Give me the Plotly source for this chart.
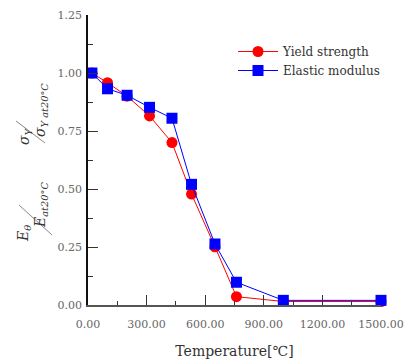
import plotly.graph_objects as go

# Data
temps = [20, 100, 200, 315, 430, 530, 650, 760, 1000, 1500]
yield_strength = [1.00, 0.958, 0.90, 0.815, 0.70, 0.478, 0.251, 0.036, 0.015, 0.015]
elastic_modulus = [1.00, 0.932, 0.904, 0.852, 0.805, 0.52, 0.263, 0.098, 0.02, 0.02]
x_ticks = [0, 300, 600, 900, 1200, 1500]
y_ticks = [0.0, 0.25, 0.5, 0.75, 1.0, 1.25]

W, H = 406, 359
L, R, T, B = 88, 25, 15, 54
pw, ph = W - L - R, H - T - B

def px(x):
    return (x - L) / pw

def py(y):
    return (H - B - y) / ph

FONT = "DejaVu Serif, Liberation Serif, serif"

fig = go.Figure()
fig.add_trace(go.Scatter(
    x=temps, y=yield_strength, name="Yield strength", mode="lines+markers",
    line=dict(color="#ff0000", width=1),
    marker=dict(symbol="circle", size=11, color="#ff0000"),
    cliponaxis=False,
))
fig.add_trace(go.Scatter(
    x=temps, y=elastic_modulus, name="Elastic modulus", mode="lines+markers",
    line=dict(color="#0000ff", width=1),
    marker=dict(symbol="square", size=11, color="#0000ff"),
    cliponaxis=False,
))

axis_common = dict(
    showgrid=False, zeroline=False, showline=True, linewidth=1.5,
    ticks="inside", tickwidth=1, tickcolor="#333333",
    tickfont=dict(family=FONT, size=11, color="#666666"),
    tickformat=".2f", automargin=False,
)

fig.update_xaxes(
    range=[0, 1500], tickvals=x_ticks, ticklen=10, linecolor="#555555",
    minor=dict(ticks="inside", ticklen=4, dtick=150, tickcolor="#333333"),
    ticklabelstandoff=8,
    title=dict(text="Temperature[℃]", font=dict(family=FONT, size=14, color="#333333"), standoff=16),
    **axis_common,
)
fig.update_yaxes(
    range=[0, 1.25], tickvals=y_ticks, ticklen=10, linecolor="#111111",
    minor=dict(ticks="inside", ticklen=5, dtick=0.125, tickcolor="#333333"),
    ticklabelstandoff=2,
    **axis_common,
)

ann_font = dict(family=FONT, size=14, color="#333333")
annotations = [
    # upper fraction: sigma_Y / sigma_Y at 20C
    dict(text="<i>σ<sub>Y</sub></i>", x=px(25), y=py(136), textangle=-90),
    dict(text="<i>σ<sub>Y at20°C</sub></i>", x=px(41), y=py(110), textangle=-90),
    # lower fraction: E_theta / E at 20C
    dict(text="<i>E<sub>θ</sub></i>", x=px(24), y=py(234), textangle=-90),
    dict(text="<i>E<sub>at20°C</sub></i>", x=px(41), y=py(205), textangle=-90),
]
for a in annotations:
    a.update(xref="paper", yref="paper", showarrow=False, font=ann_font,
             xanchor="center", yanchor="middle")

shapes = [
    dict(type="line", xref="paper", yref="paper", x0=px(16), y0=py(121), x1=px(45), y1=py(143),
         line=dict(color="#888888", width=1)),
    dict(type="line", xref="paper", yref="paper", x0=px(19), y0=py(205), x1=px(52), y1=py(235),
         line=dict(color="#888888", width=1)),
]

fig.update_layout(
    width=W, height=H,
    margin=dict(l=L, r=R, t=T, b=B),
    paper_bgcolor="white", plot_bgcolor="white",
    showlegend=True,
    legend=dict(x=px(233), y=py(37), xanchor="left", yanchor="top",
                font=dict(family=FONT, size=12, color="#333333"),
                bgcolor="rgba(0,0,0,0)", itemwidth=40, tracegroupgap=0),
    annotations=annotations,
    shapes=shapes,
)

fig.write_html("out.html")
